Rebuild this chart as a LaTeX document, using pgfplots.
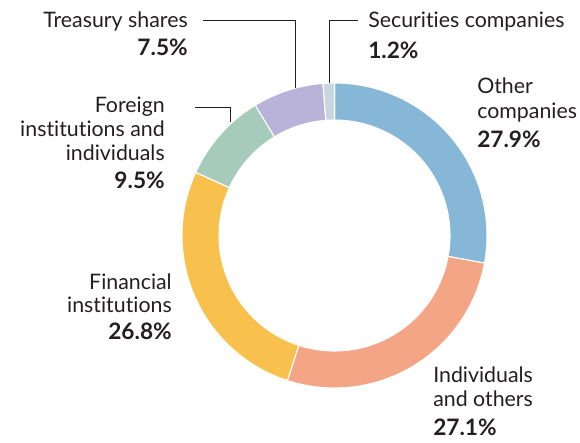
\documentclass[border=0pt]{standalone}
\usepackage{pgfplots}
\pgfplotsset{compat=1.18}
\usepackage{pgfplotstable}
\usepackage{fontspec}
\setmainfont{Lato}[Ligatures={NoCommon}]
\definecolor{txt}{HTML}{231F20}
\definecolor{slice0}{HTML}{86B7D6}
\definecolor{slice1}{HTML}{F3A585}
\definecolor{slice2}{HTML}{F8C14E}
\definecolor{slice3}{HTML}{A6CBBB}
\definecolor{slice4}{HTML}{B9B2D9}
\definecolor{slice5}{HTML}{C8D6DF}

% shareholder composition (%), clockwise from 12 o'clock
\pgfplotstableread{
share
27.9
27.1
26.8
9.5
7.5
1.2
}\sharetable

% cumulative angles
\def\cum{0}
\pgfplotsforeachungrouped \i in {0,...,5}{%
  \pgfplotstablegetelem{\i}{share}\of\sharetable
  \pgfmathsetmacro\tmpS{90-3.6*\cum}%
  \pgfmathsetmacro\newcum{\cum+\pgfplotsretval}%
  \pgfmathsetmacro\tmpE{90-3.6*\newcum}%
  \expandafter\xdef\csname sa\i\endcsname{\tmpS}%
  \expandafter\xdef\csname ea\i\endcsname{\tmpE}%
  \xdef\cum{\newcum}%
}
\newcommand\SA[1]{\csname sa#1\endcsname}
\newcommand\EA[1]{\csname ea#1\endcsname}
\def\cx{334.5}
\def\cy{206.5}
\def\Ro{152.5}
\def\Ri{115.5}

\begin{document}
\begin{tikzpicture}
\begin{axis}[
  width=435pt, height=331.5pt, scale only axis,
  xmin=0, xmax=580, ymin=0, ymax=442,
  hide axis, clip=false,
]
\path (axis cs:0,0) rectangle (axis cs:580,442);
\pgfplotsinvokeforeach{0,...,5}{
  \filldraw[fill=slice#1, draw=white, line width=0.8pt, line join=round]
    (axis cs:{\cx+\Ro*cos(\SA{#1})},{\cy+\Ro*sin(\SA{#1})})
    arc[start angle=\SA{#1}, end angle=\EA{#1}, radius=114.375pt]
    -- (axis cs:{\cx+\Ri*cos(\EA{#1})},{\cy+\Ri*sin(\EA{#1})})
    arc[start angle=\EA{#1}, end angle=\SA{#1}, radius=86.625pt]
    -- cycle;
}
% connectors
\draw[txt, line width=0.6pt] (axis cs:203,422) -- (axis cs:295,422) -- (axis cs:295,354);
\draw[txt, line width=0.6pt] (axis cs:195,335) -- (axis cs:230,335) -- (axis cs:230,320);
\draw[txt, line width=0.6pt] (axis cs:329,359) -- (axis cs:329,421.5) -- (axis cs:358,421.5);
% labels
\tikzset{lab/.style={text=txt, font=\fontsize{16pt}{19pt}\selectfont, inner sep=0pt},
         pct/.style={lab, font=\fontsize{17pt}{20pt}\selectfont\bfseries}}
% Treasury shares
\node[lab, anchor=base east] at (axis cs:188,414.3) {Treasury shares};
\node[pct, anchor=base east] at (axis cs:188,386.3) {7.5\%};
% Securities companies
\node[lab, anchor=base west] at (axis cs:368,414.3) {Securities companies};
\node[pct, anchor=base west] at (axis cs:368,383.7) {1.2\%};
% Other companies
\node[lab, anchor=base west] at (axis cs:477,348.7) {Other};
\node[lab, anchor=base west] at (axis cs:477,323.7) {companies};
\node[pct, anchor=base west] at (axis cs:477,294.3) {27.9\%};
% Foreign
\node[lab, anchor=base east] at (axis cs:165,329.5) {Foreign};
\node[lab, anchor=base east] at (axis cs:165,305.5) {institutions and};
\node[lab, anchor=base east] at (axis cs:165,281.5) {individuals};
\node[pct, anchor=base east] at (axis cs:165,253.5) {9.5\%};
% Financial
\node[lab, anchor=base east] at (axis cs:172,152) {Financial};
\node[lab, anchor=base east] at (axis cs:172,129) {institutions};
\node[pct, anchor=base east] at (axis cs:172,103) {26.8\%};
% Individuals
\node[lab, anchor=base west] at (axis cs:433,59.3) {Individuals};
\node[lab, anchor=base west] at (axis cs:433,35.3) {and others};
\node[pct, anchor=base west] at (axis cs:433,7) {27.1\%};
\end{axis}
\end{tikzpicture}
\end{document}
